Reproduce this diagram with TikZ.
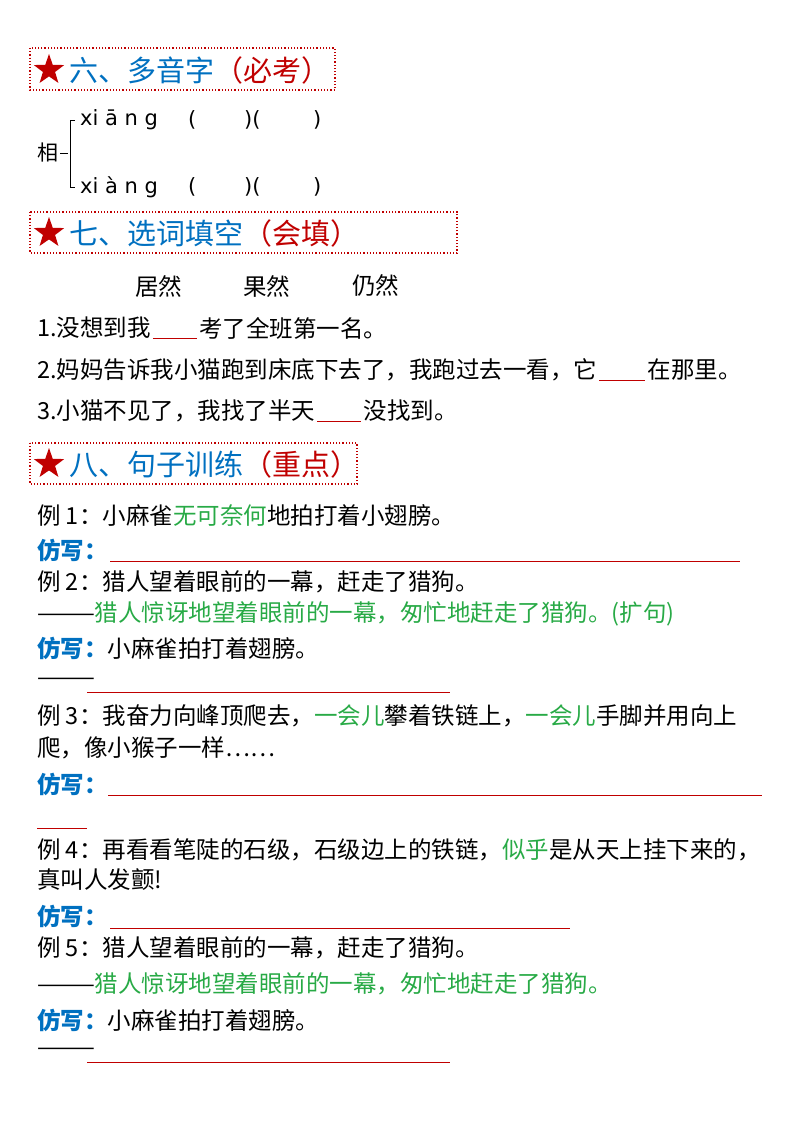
\documentclass[tikz,border=0pt]{standalone}
\usepackage{fontspec}
\setmainfont{Noto Sans CJK SC}
\usetikzlibrary{shapes.geometric,calc}
\definecolor{hblue}{RGB}{0,112,192}
\definecolor{hred}{RGB}{192,0,0}
\definecolor{hgreen}{RGB}{40,170,70}
\tikzset{
 txt/.style={anchor=west,inner sep=0pt,font=\fontsize{23.5}{26}\selectfont},
 hdr/.style={anchor=west,inner sep=0pt,font=\fontsize{29}{32}\selectfont,text=hblue},
 hbox/.style={draw=hred,dotted,line width=1.2pt},
 redstar/.style={star,star points=5,star point ratio=2.5,fill=hred,draw=none,minimum size=32pt,inner sep=0pt},
 blank/.style={draw=hred,line width=0.8pt},
 fx/.style={text=hblue,font=\fontsize{23.5}{26}\selectfont\bfseries}
}
\begin{document}
\begin{tikzpicture}[x=1pt,y=-1pt]
\useasboundingbox (0,0) rectangle (800,1132);
% headers
\draw[hbox] (30,48) rectangle (335,90);
\node[redstar] (s1) at (49,70) {};
\node[hdr] (h1) at (69,70) {六、多音字\textcolor{hred}{（必考）}};
\draw[hbox] (30,212) rectangle (457,253);
\node[redstar] (s2) at (49,233) {};
\node[hdr] (h2) at (69,233) {七、选词填空\textcolor{hred}{（会填）}};
\draw[hbox] (30,443) rectangle (357,484);
\node[redstar] (s3) at (49,464) {};
\node[hdr] (h3) at (69,464) {八、句子训练\textcolor{hred}{（重点）}};
% pinyin
\node[txt,font=\fontsize{21}{24}\selectfont] (xiang) at (37,153) {相};
\draw[line width=0.6pt] (60,153) -- (68,153) (75,120) -- (70,120) -- (70,187) -- (75,187);
\node[txt,font=\fontsize{21}{24}\selectfont\fontspec{DejaVu Sans}] (p1) at (80,120) {xi ā n g};
\node[txt,font=\fontsize{21}{24}\selectfont\fontspec{DejaVu Sans}] (p2) at (80,187) {xi à n g};
\foreach \y/\n in {120/a,187/b}{
 \node[txt,font=\fontsize{21}{24}\selectfont\fontspec{DejaVu Sans}] (o\n) at (188,\y) {(};
 \node[txt,font=\fontsize{21}{24}\selectfont\fontspec{DejaVu Sans}] (m\n) at (244,\y) {)(};
 \node[txt,font=\fontsize{21}{24}\selectfont\fontspec{DejaVu Sans}] (c\n) at (313,\y) {)};
}
% choices
\node[txt] (w1) at (135,286) {居然};
\node[txt] (w2) at (243,286) {果然};
\node[txt] (w3) at (352,286) {仍然};
\node[txt] (q1) at (37,328) {1.没想到我};
\coordinate (q1a) at ($(q1.east)+(2,10)$); \coordinate (q1b) at ($(q1a)+(44,0)$);
\draw[blank] (q1a) -- (q1b);
\node[txt] (q1c) at ($(q1.east)+(48,0)$) {考了全班第一名。};
\node[txt] (q2) at (37,370) {2.妈妈告诉我小猫跑到床底下去了，我跑过去一看，它};
\coordinate (q2a) at ($(q2.east)+(2,10)$); \coordinate (q2b) at ($(q2a)+(46,0)$);
\draw[blank] (q2a) -- (q2b);
\node[txt] (q2c) at ($(q2.east)+(50,0)$) {在那里。};
\node[txt] (q3) at (37,411) {3.小猫不见了，我找了半天};
\coordinate (q3a) at ($(q3.east)+(2,10)$); \coordinate (q3b) at ($(q3a)+(44,0)$);
\draw[blank] (q3a) -- (q3b);
\node[txt] (q3c) at ($(q3.east)+(48,0)$) {没找到。};
% section 8
\node[txt] (e1) at (37,515) {例 1：小麻雀\textcolor{hgreen}{无可奈何}地拍打着小翅膀。};
\node[txt,fx] (f1) at (37,550) {仿写：};
\coordinate (f1a) at (110,561); \coordinate (f1b) at (740,561);
\draw[blank] (f1a) -- (f1b);
\node[txt] (e2) at (37,582) {例 2：猎人望着眼前的一幕，赶走了猎狗。};
\node[txt] (e2b) at (37,614) {———\textcolor{hgreen}{猎人惊讶地望着眼前的一幕，匆忙地赶走了猎狗。(扩句)}};
\node[txt] (f2) at (37,648) {\textcolor{hblue}{\bfseries 仿写：}小麻雀拍打着翅膀。};
\node[txt] (d2) at (37,682) {———};
\coordinate (f2a) at (87,692); \coordinate (f2b) at (450,692);
\draw[blank] (f2a) -- (f2b);
\node[txt] (e3) at (37,716) {例 3：我奋力向峰顶爬去，\textcolor{hgreen}{一会儿}攀着铁链上，\textcolor{hgreen}{一会儿}手脚并用向上};
\node[txt] (e3b) at (37,748) {爬，像小猴子一样……};
\node[txt,fx] (f3) at (37,784) {仿写：};
\coordinate (f3a) at (108,795); \coordinate (f3b) at (762,795);
\draw[blank] (f3a) -- (f3b);
\coordinate (f3c) at (37,828); \coordinate (f3d) at (87,828);
\draw[blank] (f3c) -- (f3d);
\node[txt] (e4) at (37,850) {例 4：再看看笔陡的石级，石级边上的铁链，\textcolor{hgreen}{似乎}是从天上挂下来的，};
\node[txt] (e4b) at (37,880) {真叫人发颤!};
\node[txt,fx] (f4) at (37,916) {仿写：};
\coordinate (f4a) at (110,928); \coordinate (f4b) at (570,928);
\draw[blank] (f4a) -- (f4b);
\node[txt] (e5) at (37,948) {例 5：猎人望着眼前的一幕，赶走了猎狗。};
\node[txt] (e5b) at (37,984) {———\textcolor{hgreen}{猎人惊讶地望着眼前的一幕，匆忙地赶走了猎狗。}};
\node[txt] (f5) at (37,1020) {\textcolor{hblue}{\bfseries 仿写：}小麻雀拍打着翅膀。};
\node[txt] (d5) at (37,1052) {———};
\coordinate (f5a) at (87,1062); \coordinate (f5b) at (450,1062);
\draw[blank] (f5a) -- (f5b);
\end{tikzpicture}
\end{document}
